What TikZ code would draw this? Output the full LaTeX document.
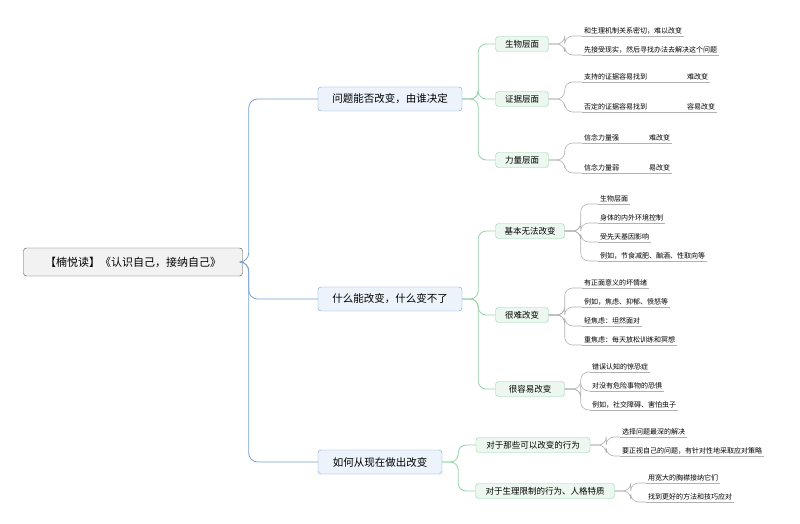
\documentclass[tikz,border=0pt]{standalone}
\usepackage{fontspec}
\setmainfont{Noto Sans CJK SC}
\definecolor{bluebd}{RGB}{120,160,210}
\definecolor{bluefl}{RGB}{236,243,251}
\definecolor{greenbd}{RGB}{150,210,170}
\definecolor{greenfl}{RGB}{236,247,239}
\definecolor{rootfl}{RGB}{242,242,242}
\tikzset{
  rootbox/.style={draw=black!70,fill=rootfl,rounded corners=3,minimum width=219,minimum height=28,font=\fontsize{11}{13}\selectfont},
  topicbox/.style={draw=bluebd,fill=bluefl,rounded corners=3,minimum height=24,inner xsep=8,font=\fontsize{10.5}{12}\selectfont},
  subbox/.style={draw=greenbd,fill=greenfl,rounded corners=3,minimum height=15,inner xsep=7,font=\fontsize{8.5}{10}\selectfont},
  leaf/.style={anchor=south west,inner sep=2,font=\fontsize{7}{8}\selectfont},
  blueline/.style={draw=bluebd,line width=0.8,rounded corners=9},
  greenline/.style={draw=greenbd,line width=0.8,rounded corners=8},
  leafline/.style={draw=black!30,line width=0.6,rounded corners=8}
}
\newcommand{\leafto}[3]{%
  \node[leaf] (#2) at #1 {#3};
  \draw[black!30,line width=0.6] (#2.south west) -- (#2.south east);}
\begin{document}
\begin{tikzpicture}[x=1pt,y=-1pt]
  \useasboundingbox (0,0) rectangle (800,524);
  % root and topics
  \node[rootbox] (root) at (133,262) {【楠悦读】《认识自己，接纳自己》};
  \node[topicbox,minimum width=144] (q) at (390,99) {问题能否改变，由谁决定};
  \node[topicbox,minimum width=144] (w) at (390,299) {什么能改变，什么变不了};
  \node[topicbox,minimum width=124] (h) at (380,462) {如何从现在做出改变};
  \foreach \t in {q,w,h}
    \draw[blueline] (root.east) -- ++(6,0) |- (\t.west);

  % sub topics
  \node[subbox,minimum width=53] (bio) at (522,44) {生物层面};
  \node[subbox,minimum width=53] (evi) at (522,99) {证据层面};
  \node[subbox,minimum width=53] (pow) at (522,160) {力量层面};
  \node[subbox,minimum width=69] (base) at (530,231) {基本无法改变};
  \node[subbox,minimum width=53] (hard) at (522,315) {很难改变};
  \node[subbox,minimum width=69] (easy) at (530,389) {很容易改变};
  \node[subbox,minimum width=114] (can) at (533,445) {对于那些可以改变的行为};
  \node[subbox,minimum width=139] (lim) at (545,491) {对于生理限制的行为、人格特质};
  \foreach \s in {bio,evi,pow}
    \draw[greenline] (q.east) -- ++(16,0) |- (\s.west);
  \foreach \s in {base,hard,easy}
    \draw[greenline] (w.east) -- ++(16,0) |- (\s.west);
  \foreach \s in {can,lim}
    \draw[greenline] (h.east) -- ++(16,0) |- (\s.west);

  % leaves
  \leafto{(582,36)}{b1}{和生理机制关系密切，难以改变}
  \leafto{(582,55)}{b2}{先接受现实，然后寻找办法去解决这个问题}
  \leafto{(582,82)}{e1}{支持的证据容易找到\hspace{40pt}难改变}
  \leafto{(582,112)}{e2}{否定的证据容易找到\hspace{40pt}容易改变}
  \leafto{(582,143)}{p1}{信念力量强\hspace{30pt}难改变}
  \leafto{(582,173)}{p2}{信念力量弱\hspace{30pt}易改变}
  \leafto{(598,204)}{a1}{生物层面}
  \leafto{(598,223)}{a2}{身体的内外环境控制}
  \leafto{(598,242)}{a3}{受先天基因影响}
  \leafto{(598,261)}{a4}{例如，节食减肥、酗酒、性取向等}
  \leafto{(582,288)}{d1}{有正面意义的坏情绪}
  \leafto{(582,307)}{d2}{例如，焦虑、抑郁、愤怒等}
  \leafto{(582,326)}{d3}{轻焦虑：坦然面对}
  \leafto{(582,345)}{d4}{重焦虑：每天放松训练和冥想}
  \leafto{(590,372)}{y1}{错误认知的惊恐症}
  \leafto{(590,391)}{y2}{对没有危险事物的恐惧}
  \leafto{(590,410)}{y3}{例如，社交障碍、害怕虫子}
  \leafto{(620,437)}{c1}{选择问题最深的解决}
  \leafto{(620,456)}{c2}{要正视自己的问题，有针对性地采取应对策略}
  \leafto{(646,483)}{l1}{用宽大的胸襟接纳它们}
  \leafto{(646,502)}{l2}{找到更好的方法和技巧应对}
  \foreach \l in {b1,b2} \draw[leafline] (bio.east) -- ++(16,0) |- (\l.south west);
  \foreach \l in {e1,e2} \draw[leafline] (evi.east) -- ++(16,0) |- (\l.south west);
  \foreach \l in {p1,p2} \draw[leafline] (pow.east) -- ++(16,0) |- (\l.south west);
  \foreach \l in {a1,a2,a3,a4} \draw[leafline] (base.east) -- ++(16,0) |- (\l.south west);
  \foreach \l in {d1,d2,d3,d4} \draw[leafline] (hard.east) -- ++(16,0) |- (\l.south west);
  \foreach \l in {y1,y2,y3} \draw[leafline] (easy.east) -- ++(16,0) |- (\l.south west);
  \foreach \l in {c1,c2} \draw[leafline] (can.east) -- ++(16,0) |- (\l.south west);
  \foreach \l in {l1,l2} \draw[leafline] (lim.east) -- ++(16,0) |- (\l.south west);
\end{tikzpicture}
\end{document}
